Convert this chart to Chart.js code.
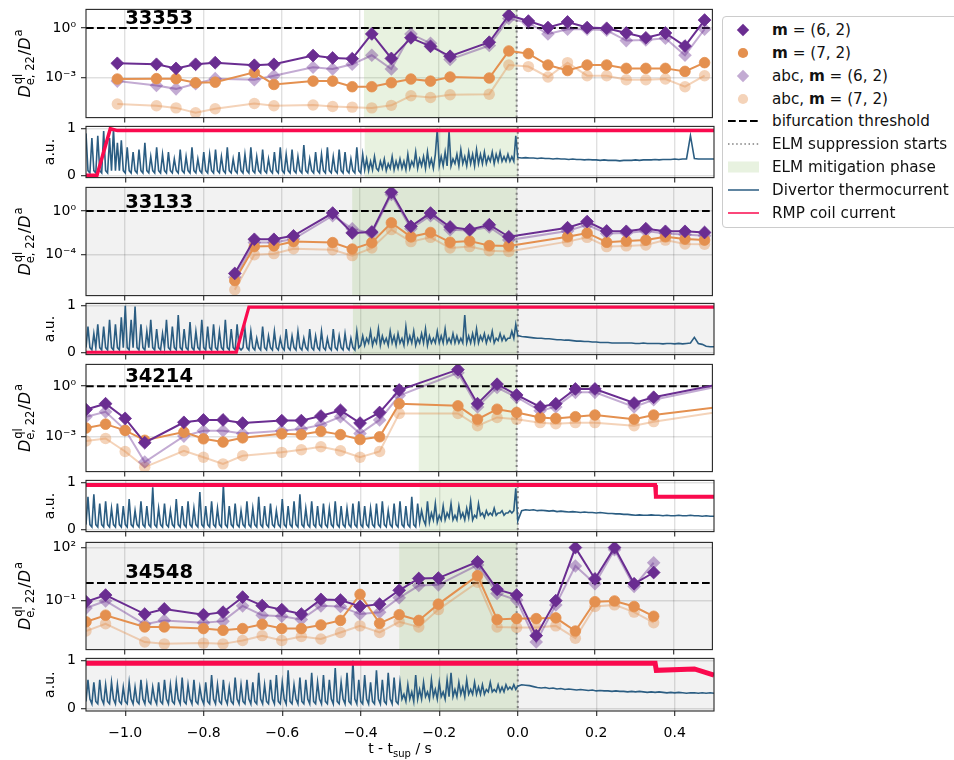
<!DOCTYPE html>
<html><head><meta charset="utf-8">
<script src="https://cdn.jsdelivr.net/npm/chart.js@4.4.1/dist/chart.umd.min.js"></script>
<style>
html,body{margin:0;padding:0;background:#fff;}
body{width:954px;height:760px;position:relative;overflow:hidden;font-family:"DejaVu Sans",sans-serif;}
canvas{position:absolute;left:0;}
#legend{position:absolute;left:722px;top:16px;width:250px;height:212px;border:1px solid #cccccc;border-radius:4px;background:rgba(255,255,255,0.85);box-sizing:border-box;}
.row{position:absolute;left:0;height:22px;width:245px;}
.row svg{position:absolute;left:3px;top:0;}
.row span{position:absolute;left:49px;top:0;line-height:22px;font-size:15.2px;color:#111;white-space:nowrap;}
</style></head><body>
<div id="legend"></div>
<script>
// ================= DATA =================
const xTicks = [-1.0,-0.8,-0.6,-0.4,-0.2,0.0,0.2,0.4];
const auTicks = [0, 1];
const threshold = 1;
const tSup = 0.0;

// shot 33353
const t33353 = [-1.02,-0.92,-0.87,-0.82,-0.77,-0.67,-0.62,-0.52,-0.47,-0.42,-0.37,-0.32,-0.27,-0.22,-0.17,-0.07,-0.02,0.03,0.08,0.13,0.18,0.23,0.28,0.33,0.38,0.43,0.48];
const m62_33353 = [7.1e-3,6.2e-3,3.5e-3,6.2e-3,7.8e-3,5.4e-3,6.2e-3,2.1e-2,1.5e-2,1.35e-2,0.43,1.4e-2,0.25,7.6e-2,1.9e-2,0.135,5.9,2.6,1.05,2.3,1.05,0.95,0.49,0.25,0.49,7.9e-2,3.0];
const m72_33353 = [7.9e-4,8.3e-4,8.3e-4,4.7e-4,5.1e-4,2.0e-3,3.7e-4,5.9e-4,5.9e-4,2.7e-4,2.7e-4,4.7e-4,7.9e-4,5.9e-4,1.05e-3,9.1e-4,4.0e-2,2.75e-2,5.6e-3,2.6e-3,5.6e-3,5.6e-3,3.5e-3,3.5e-3,3.5e-3,2.3e-3,7.8e-3];
const abc62_33353 = [5.9e-4,3.2e-4,2.0e-4,4.1e-4,8.3e-4,7.2e-4,1.26e-3,4.1e-3,3.2e-3,6.2e-3,2.2e-2,3.2e-3,0.43,0.117,1.23e-2,8.5e-2,3.7,2.0,0.43,0.83,0.83,0.72,0.17,0.186,0.234,2.2e-2,0.83];
const abc72_33353 = [2.4e-5,1.9e-5,1.4e-5,7.1e-6,1.23e-5,2.6e-5,1.9e-5,2.1e-5,1.7e-5,1.55e-5,1.4e-5,2.0e-5,7.6e-5,6.0e-5,8.7e-5,9.5e-5,5.6e-3,4.5e-3,1.05e-3,7.8e-3,1.26e-3,1.26e-3,7.2e-4,7.2e-4,7.9e-4,2.7e-4,1.26e-3];
const yLim33353 = [3.6e-6, 13.3];
const yTicks33353 = [1e-3, 1];
const mitig33353 = [-0.39, 0.0];

// shot 33133
const t33133 = [-0.72,-0.67,-0.62,-0.57,-0.47,-0.42,-0.37,-0.32,-0.27,-0.22,-0.17,-0.12,-0.07,-0.02,0.13,0.18,0.23,0.28,0.33,0.38,0.43,0.48];
const m62_33133 = [1.95e-6,2.6e-3,2.6e-3,5.4e-3,0.66,1.0e-2,1.23e-2,52,4.0e-2,0.66,3.5e-2,2.0e-2,5.6e-2,4.4e-3,3.0e-2,0.11,1.5e-2,1.4e-2,2.45e-2,1.4e-2,1.4e-2,1.1e-2];
const m72_33133 = [4.3e-7,5.6e-4,6.5e-4,1.6e-3,1.3e-3,3.3e-4,1.3e-3,8.5e-2,4.4e-3,1.1e-2,1.4e-3,1.8e-3,6.9e-4,6.5e-4,4.4e-3,1.0e-2,1.4e-3,1.8e-3,2.2e-3,4.4e-3,2.75e-3,2.2e-3];
const abc62_33133 = [8.5e-7,1.3e-3,1.3e-3,2.75e-3,0.38,2.45e-2,8.9e-3,33,2.45e-2,0.38,2.0e-2,1.7e-2,3.5e-2,2.2e-3,1.5e-2,5.6e-2,8.9e-3,1.0e-2,1.5e-2,8.9e-3,7.2e-3,5.4e-3];
const abc72_33133 = [6.2e-8,1.0e-4,1.26e-4,3.5e-4,2.9e-4,8.3e-5,4.1e-4,2.0e-2,1.6e-3,3.9e-3,4.1e-4,5.6e-4,2.3e-4,2.0e-4,1.6e-3,3.9e-3,5.6e-4,6.5e-4,7.9e-4,2.2e-3,9.8e-4,9.1e-4];
const yLim33133 = [1.82e-8, 148];
const yTicks33133 = [1e-4, 1];
const mitig33133 = [-0.42, 0.0];

// shot 34214
const t34214 = [-1.1,-1.05,-1.0,-0.95,-0.85,-0.8,-0.75,-0.7,-0.6,-0.55,-0.5,-0.45,-0.4,-0.35,-0.3,-0.15,-0.1,-0.05,0.0,0.06,0.1,0.15,0.2,0.3,0.35,0.55];
const m62_34214 = [4.1e-2,9.1e-2,1.23e-2,4.5e-4,7.2e-3,1.0e-2,1.0e-2,6.5e-3,9.1e-3,9.1e-3,1.7e-2,3.7e-2,6.5e-3,2.75e-2,0.59,9.5,9.1e-2,1.3,0.3,5.9e-2,9.1e-2,0.68,0.68,0.1,0.22,1.8];
const m72_34214 = [3.3e-3,5.6e-3,2.4e-3,6.2e-4,1.9e-3,7.6e-4,4.9e-4,8.7e-4,1.5e-3,1.35e-3,2.1e-3,1.35e-3,6.9e-4,1.0e-3,9.1e-2,6.8e-2,1.1e-2,4.3e-2,2.75e-2,1.4e-2,1.23e-2,1.55e-2,1.95e-2,1.1e-2,1.95e-2,7.1e-2];
const abc62_34214 = [1.55e-2,3.0e-2,2.6e-3,3.2e-5,1.1e-3,2.3e-3,2.3e-3,1.55e-3,2.3e-3,2.9e-3,5.1e-3,1.55e-2,1.55e-3,1.0e-2,0.275,6.2,5.9e-2,0.83,0.22,3.5e-2,5.9e-2,0.43,0.43,5.9e-2,0.155,1.45];
const abc72_34214 = [5.6e-4,7.9e-4,1.35e-4,1.6e-5,1.5e-4,6.2e-5,2.5e-5,7.6e-5,1.2e-4,1.7e-4,2.6e-4,1.5e-4,6.2e-5,1.35e-4,2.4e-2,2.4e-2,4.5e-3,1.4e-2,1.1e-2,6.9e-3,5.9e-3,6.9e-3,6.9e-3,4.5e-3,7.9e-3,3.9e-2];
const yLim34214 = [8.7e-6, 19.4];
const yTicks34214 = [1e-3, 1];
const mitig34214 = [-0.25, 0.0];

// shot 34548
const t34548 = [-1.1,-1.05,-0.95,-0.9,-0.8,-0.75,-0.7,-0.65,-0.6,-0.55,-0.5,-0.45,-0.4,-0.35,-0.3,-0.25,-0.2,-0.1,-0.05,0.0,0.05,0.1,0.15,0.2,0.25,0.3,0.35];
const m62_34548 = [8.9e-2,0.21,1.8e-2,3.5e-2,1.66e-2,2.3e-2,0.162,5.4e-2,3.2e-2,1.8e-2,0.12,0.11,4.8e-2,6.5e-2,0.39,1.8,1.9,15.5,0.44,0.21,1.1e-3,0.102,98,1.7,98,0.91,3.9];
const m72_34548 = [6.6e-3,1.55e-2,3.4e-3,3.4e-3,2.75e-3,2.2e-3,2.75e-3,4.8e-3,2.75e-3,2.75e-3,4.4e-3,7.9e-3,0.23,5.4e-3,1.66e-2,7.9e-3,6.5e-2,2.6,8.9e-3,1.0e-2,1.0e-2,1.1e-2,2.0e-3,8.9e-2,9.8e-2,4.8e-2,1.35e-2];
const abc62_34548 = [3.9e-2,9.8e-2,4.8e-3,7.9e-3,5.9e-3,7.2e-3,5.2e-2,1.55e-2,1.35e-2,8.9e-3,5.2e-2,4.8e-2,1.8e-2,2.3e-2,0.148,0.72,0.79,10.2,0.26,0.11,4.8e-4,5.9e-2,9.1,0.91,74,0.65,13.8];
const abc72_34548 = [2.0e-3,5.1e-3,4.8e-4,3.8e-4,4.2e-4,3.8e-4,5.9e-4,1.1e-3,5.9e-4,9.8e-4,7.2e-4,1.66e-3,3.9e-3,1.66e-3,6.6e-3,3.4e-3,3.2e-2,1.1,3.4e-3,3.2e-3,3.2e-3,3.9e-3,7.9e-4,4.8e-2,5.9e-2,2.3e-2,5.9e-3];
const yLim34548 = [1.81e-4, 192];
const yTicks34548 = [1e-1, 1e2];
const mitig34548 = [-0.30, 0.0];

// divertor thermocurrent (normalised), sampled every 5 ms before t_sup, every 10 ms after
const tcStart = -1.1, tcStepPre = 0.005, tcStepPost = 0.01;
const tc33353Pre = [
.9,.1,.05,.8,.1,.05,.85,.1,.05,.95,.1,.05,.8,.1,1.0,.1,.7,.1,.75,.1,
.05,.6,.1,.05,.5,.1,.05,.55,.1,.05,.7,.1,.05,.4,.1,.05,.6,.1,.05,.45,
.1,.05,.5,.1,.05,.35,.1,.05,.55,.1,.05,.4,.1,.05,.6,.1,.05,.35,.1,.05,
.5,.1,.05,.45,.1,.05,.55,.1,.05,.4,.1,.05,.6,.1,.05,.35,.1,.05,.5,.1,
.05,.45,.1,.05,.6,.1,.05,.4,.1,.05,.55,.1,.05,.35,.1,.05,.5,.1,.05,.6,
.1,.05,.45,.1,.05,.55,.1,.05,.4,.1,.05,.65,.1,.05,.35,.1,.05,.5,.1,.05,
.45,.1,.05,.6,.1,.05,.4,.1,.05,.55,.1,.05,.5,.1,.05,.35,.1,.05,.6,.1,
.05,.45,.12,.35,.1,.3,.12,.4,.15,.1,.3,.15,.35,.1,.25,.15,.4,.12,.3,.15,
.35,.15,.3,.12,.45,.15,.3,.2,.5,.15,.35,.2,.4,.15,.5,.2,.35,.15,.45,1.0,
.2,.4,.2,.5,.2,.95,.2,.35,.25,.45,.2,.55,.25,.4,.2,.5,.25,.45,.2,.55,
.25,.45,.25,.5,.25,.4,.3,.5,.25,.45,.3,.5,.3,.4,.3,.45,.3,.4,.3,.85];
const tc33353Post = [
.38,.37,.38,.37,.37,.36,.37,.36,.36,.35,
.36,.35,.35,.34,.35,.34,.34,.33,.34,.33,
.33,.32,.33,.32,.32,.32,.31,.32,.32,.32,
.33,.32,.33,.33,.33,.34,.33,.34,.34,.34,
.35,.34,.35,.35,.85,.36,.35,.35,.35,.35,.35];
const tc33133Pre = [
.1,.55,.1,.05,.4,.1,.6,.1,.05,.55,.1,.05,.7,.1,.05,.6,.1,.05,.75,.1,
1.0,.1,.05,.7,.1,.98,.1,.05,.6,.1,.05,.45,.1,.7,.1,.05,.5,.1,.05,.4,
.1,.7,.1,.05,.55,.1,.05,.8,.1,.05,.5,.1,.05,.65,.1,.05,.45,.1,.05,.7,
.1,.05,.55,.1,.05,.6,.1,.05,.45,.1,.05,.7,.1,.05,.5,.1,.05,.6,.1,.05,
.1,.5,.1,.05,.45,.1,.05,.3,.1,.05,.55,.1,.05,.35,.1,.05,.45,.1,.05,.3,
.1,.05,.5,.1,.05,.35,.1,.05,.45,.1,.05,.3,.1,.05,.5,.1,.05,.35,.1,.05,
.45,.1,.05,.3,.1,.05,.5,.1,.05,.35,.1,.05,.4,.1,.05,.3,.1,.05,.45,.1,
.15,.35,.15,.3,.2,.45,.15,.3,.2,.5,.15,.35,.2,.3,.15,.45,.2,.35,.15,.4,
.2,.3,.15,.55,.2,.35,.2,.45,.15,.3,.2,.4,.2,.5,.15,.35,.2,.3,.2,.45,
.2,.35,.2,.5,.2,.3,.2,.4,.2,.35,.2,.3,.2,.8,.2,.35,.2,.4,.2,.5,
.2,.35,.25,.4,.2,.35,.25,.45,.2,.3,.25,.4,.25,.35,.25,.3,.3,.45,.3,.6];
const tc33133Post = [
.36,.34,.33,.32,.31,.3,.3,.29,.29,.28,
.27,.27,.26,.26,.25,.24,.24,.23,.23,.22,
.22,.21,.21,.21,.2,.2,.2,.2,.2,.2,
.19,.19,.2,.19,.19,.19,.19,.18,.19,.19,
.18,.19,.18,.19,.2,.32,.19,.17,.13,.12,.12];
const tc34214Pre = [
.1,.7,.1,.05,.75,.1,.05,.55,.1,.05,.6,.1,.05,.45,.1,.05,.55,.1,.05,.5,
.1,.05,.65,.1,.05,.4,.1,.05,.6,.1,.05,.5,.1,.05,.9,.1,.05,.45,.1,.05,
.55,.1,.05,.4,.1,.05,.65,.1,.05,.5,.1,.05,.6,.1,.05,.45,.1,.05,.8,.1,
.05,.5,.1,.05,.6,.1,.05,.45,.1,.05,.95,.1,.05,.5,.1,.05,.55,.1,.05,.4,
.1,.05,.6,.1,.05,.45,.1,.05,.7,.1,.05,.5,.1,.05,.55,.1,.05,.4,.1,.05,
.65,.1,.05,.5,.1,.05,.6,.1,.05,.75,.1,.05,.45,.1,.05,.6,.1,.05,.5,.1,
.05,.55,.1,.05,.45,.1,.05,.6,.1,.05,.5,.1,.05,.45,.1,.05,.55,.1,.05,.6,
.1,.05,.5,.1,.05,.45,.1,.05,.55,.1,.05,.6,.1,.05,.4,.1,.05,.55,.1,.05,
.6,.1,.05,.5,.1,.05,.7,.1,.05,.55,.15,.4,.2,.1,.6,.15,.35,.2,.55,.15,
.3,.2,.5,.2,.35,.25,.55,.2,.3,.2,.5,.25,.35,.2,.45,.25,.6,.2,.3,.25,
.55,.3,.35,.25,.4,.3,.35,.3,.45,.3,.35,.35,.4,.3,.35,.35,.4,.35,.4,.88];
const tc34214Post = [
.18,.4,.42,.41,.42,.4,.41,.4,.39,.4,
.38,.39,.38,.37,.38,.37,.36,.37,.36,.36,
.35,.36,.35,.34,.34,.33,.33,.32,.32,.31,
.3,.31,.3,.3,.31,.3,.3,.29,.3,.29,
.29,.3,.29,.29,.3,.29,.29,.28,.29,.28,.28];
const tc34548Pre = [
.15,.6,.2,.1,.55,.15,.1,.6,.2,.1,.5,.15,.1,.55,.2,.1,.5,.15,.1,.45,
.15,.1,.55,.2,.1,.45,.15,.1,.6,.2,.1,.5,.15,.1,.45,.2,.1,.55,.15,.1,
.6,.2,.1,.5,.15,.1,.55,.2,.1,.65,.15,.1,.5,.2,.1,.6,.15,.1,.45,.2,
.1,.55,.15,.1,.7,.2,.1,.5,.15,.1,.6,.2,.1,.45,.15,.1,.65,.2,.1,.5,
.15,.1,.6,.2,.1,.55,.15,.1,.75,.2,.1,.5,.15,.1,.6,.2,.1,.7,.15,.1,
.55,.2,.1,.8,.15,.1,.5,.2,.1,.65,.15,.1,.6,.2,.1,.75,.15,.1,.55,.2,
.1,.7,.15,.1,.6,.2,.1,.85,.15,.1,.55,.2,.1,.75,.15,.1,1.0,.2,.1,.6,
.15,.1,.7,.2,.1,.55,.15,.1,.8,.2,.1,.6,.15,.1,.75,.2,.1,.65,.15,.1,
.55,.2,.3,.15,.5,.2,.35,.15,.7,.2,.4,.2,.55,.25,.35,.2,.6,.25,.4,.2,
.55,.25,.35,.2,.6,.25,.75,.25,.4,.25,.55,.3,.45,.25,.6,.3,.4,.3,.55,.3,
.45,.3,.5,.3,.4,.35,.55,.35,.4,.35,.5,.35,.45,.35,.5,.4,.45,.4,.5,.4];
const tc34548Post = [
.47,.5,.49,.48,.46,.44,.43,.44,.42,.43,
.41,.42,.4,.41,.4,.39,.4,.39,.38,.39,
.37,.38,.37,.37,.36,.37,.36,.36,.35,.36,
.35,.36,.35,.34,.35,.34,.35,.34,.33,.34,
.33,.34,.33,.32,.33,.33,.32,.33,.32,.33,.32];

// RMP coil current (normalised) breakpoints
const rmpT33353 = [-1.1,-1.072,-1.038,-1.02,0.5];
const rmpV33353 = [0,0,1.0,0.96,0.96];
const rmpT33133 = [-1.1,-0.717,-0.685,0.5];
const rmpV33133 = [0,0,0.97,0.97];
const rmpT34214 = [-1.1,0.35,0.352,0.5];
const rmpV34214 = [0.95,0.95,0.70,0.70];
const rmpT34548 = [-1.1,0.35,0.353,0.45,0.5];
const rmpV34548 = [0.95,0.95,0.80,0.83,0.70];

const legendItems = [
  {icon:'diamond', text:'<b>m</b> = (6, 2)'},
  {icon:'circle', text:'<b>m</b> = (7, 2)'},
  {icon:'diamondL', text:'abc, <b>m</b> = (6, 2)'},
  {icon:'circleL', text:'abc, <b>m</b> = (7, 2)'},
  {icon:'dash', text:'bifurcation threshold'},
  {icon:'dot', text:'ELM suppression starts'},
  {icon:'patch', text:'ELM mitigation phase'},
  {icon:'blue', text:'Divertor thermocurrent'},
  {icon:'red', text:'RMP coil current'}
];

// ================= STYLE / LAYOUT =================
const PURPLE = '#6a2d91', ORANGE = '#e4904f';
const PURPLE_L = 'rgba(106,45,145,0.4)', ORANGE_L = 'rgba(228,144,79,0.4)';
const BLUE = '#2b5d82', RED = '#fa0a4e';
const GREEN = 'rgba(140,190,100,0.2)';
const GRID = 'rgba(0,0,0,0.12)';
const FONT = '"DejaVu Sans"';

Chart.defaults.font.family = FONT;
Chart.defaults.font.size = 14;
Chart.defaults.color = '#000';

const GEOM = [
  {top:8, bot:119}, {top:125, bot:179}, {top:186, bot:297}, {top:302, bot:356},
  {top:363, bot:473}, {top:479, bot:533}, {top:541, bot:651}, {top:657, bot:711}
];

function sup(n) {
  const map = {'-':'\u207B','0':'\u2070','1':'\u00B9','2':'\u00B2','3':'\u00B3','4':'\u2074','5':'\u2075','6':'\u2076','7':'\u2077','8':'\u2078','9':'\u2079'};
  return String(n).split('').map(c => map[c]).join('');
}
function fmtX(v) { return (v < -1e-9 ? '\u2212' : '') + Math.abs(v).toFixed(1); }
function pts(xs, ys) { return xs.map((x, i) => ({x: x, y: ys[i]})); }
function tcPts(pre, post) {
  const out = [];
  pre.forEach((v, i) => out.push({x: tcStart + i * tcStepPre, y: v}));
  post.forEach((v, i) => out.push({x: tSup + i * tcStepPost, y: v}));
  return out;
}

function drawDLabel(ctx, xb, yc) {
  ctx.save(); ctx.translate(xb, yc); ctx.rotate(-Math.PI / 2);
  ctx.fillStyle = '#000'; ctx.textBaseline = 'alphabetic'; ctx.textAlign = 'left';
  const big = 'italic 16px ' + FONT, small = '11.5px ' + FONT, reg = '16px ' + FONT;
  ctx.font = big; const wD = ctx.measureText('D').width;
  ctx.font = small; const wSup = ctx.measureText('ql').width, wSub = ctx.measureText('e, 22').width, wA = ctx.measureText('a').width;
  ctx.font = reg; const wSl = ctx.measureText('/').width;
  const total = wD + 1 + Math.max(wSup, wSub) + wSl + wD + 1 + wA;
  let x = -total / 2;
  ctx.font = big; ctx.fillText('D', x, 0); x += wD + 1;
  ctx.font = small; ctx.fillText('ql', x, -7.5); ctx.fillText('e, 22', x - 1, 4); x += Math.max(wSup, wSub);
  ctx.font = reg; ctx.fillText('/', x, 0); x += wSl;
  ctx.font = big; ctx.fillText('D', x, 0); x += wD + 1;
  ctx.font = small; ctx.fillText('a', x, -7.5);
  ctx.restore();
}
function drawAU(ctx, xb, yc) {
  ctx.save(); ctx.translate(xb, yc); ctx.rotate(-Math.PI / 2);
  ctx.fillStyle = '#000'; ctx.textBaseline = 'alphabetic'; ctx.textAlign = 'center';
  ctx.font = '14px ' + FONT; ctx.fillText('a.u.', 0, 0);
  ctx.restore();
}

const deco = {
  id: 'deco',
  beforeDraw(chart, args, o) {
    const {ctx, chartArea: a} = chart;
    ctx.save(); ctx.fillStyle = o.bg; ctx.fillRect(a.left, a.top, a.width, a.height); ctx.restore();
  },
  beforeDatasetsDraw(chart, args, o) {
    const {ctx, chartArea: a} = chart; const x = chart.scales.x, y = chart.scales.y;
    ctx.save(); ctx.beginPath(); ctx.rect(a.left, a.top, a.width, a.height); ctx.clip();
    const s0 = x.getPixelForValue(o.span[0]), s1 = x.getPixelForValue(o.span[1]);
    ctx.fillStyle = GREEN; ctx.fillRect(s0, a.top, s1 - s0, a.height);
    const xv = x.getPixelForValue(o.sup);
    ctx.strokeStyle = '#7f7f7f'; ctx.lineWidth = 2; ctx.setLineDash([2, 3.3]);
    ctx.beginPath(); ctx.moveTo(xv, a.top); ctx.lineTo(xv, a.bottom); ctx.stroke();
    if (o.threshold !== null) {
      const yt = y.getPixelForValue(o.threshold);
      ctx.strokeStyle = '#000'; ctx.lineWidth = 2; ctx.setLineDash([7.7, 3.3]);
      ctx.beginPath(); ctx.moveTo(a.left, yt); ctx.lineTo(a.right, yt); ctx.stroke();
    }
    ctx.restore();
  },
  afterDatasetsDraw(chart, args, o) {
    if (!o.label) return;
    const {ctx} = chart; const x = chart.scales.x, y = chart.scales.y;
    ctx.save(); ctx.fillStyle = '#000'; ctx.font = 'bold 19.5px ' + FONT;
    ctx.textBaseline = 'alphabetic'; ctx.textAlign = 'left';
    ctx.fillText(o.label, x.getPixelForValue(-1.0), y.getPixelForValue(1.85));
    ctx.restore();
  },
  afterDraw(chart, args, o) {
    const {ctx, chartArea: a} = chart;
    ctx.save(); ctx.strokeStyle = '#262626'; ctx.lineWidth = 1.1;
    ctx.strokeRect(a.left, a.top, a.width, a.height); ctx.restore();
    const yc = (a.top + a.bottom) / 2;
    if (o.ytitle === 'D') drawDLabel(ctx, 29.5, yc); else drawAU(ctx, 54, yc);
    if (o.xlabel) {
      ctx.save(); ctx.fillStyle = '#000'; ctx.textBaseline = 'alphabetic'; ctx.textAlign = 'left';
      const f1 = '14px ' + FONT, f2 = '10px ' + FONT;
      ctx.font = f1; const w1 = ctx.measureText('t - t').width, w3 = ctx.measureText(' / s').width;
      ctx.font = f2; const w2 = ctx.measureText('sup').width;
      const cx = (a.left + a.right) / 2; let xx = cx - (w1 + w2 + w3) / 2;
      const yb = o.xlabelY;
      ctx.font = f1; ctx.fillText('t - t', xx, yb); xx += w1;
      ctx.font = f2; ctx.fillText('sup', xx, yb + 3.5); xx += w2;
      ctx.font = f1; ctx.fillText(' / s', xx, yb);
      ctx.restore();
    }
  }
};

function makePanel(idx, kind, spec) {
  const g = GEOM[idx];
  const last = idx === GEOM.length - 1;
  const padT = 12, padB = last ? 760 - g.bot : 12;
  const cv = document.createElement('canvas');
  cv.width = 720; cv.height = (g.bot - g.top) + padT + padB;
  cv.style.top = (g.top - padT) + 'px';
  cv.style.width = '720px'; cv.style.height = cv.height + 'px';
  document.body.insertBefore(cv, document.getElementById('legend'));
  const grid = {color: GRID, lineWidth: 1.4, tickColor: '#262626', tickLength: 5, tickWidth: 1.1, drawTicks: true};
  let yScale;
  if (kind === 'D') {
    yScale = {type: 'logarithmic', min: spec.yLim[0], max: spec.yLim[1],
      afterBuildTicks: s => { s.ticks = spec.yTicks.map(v => ({value: v})); },
      afterFit: s => { s.width = 86; },
      grid: grid, border: {display: false},
      ticks: {autoSkip: false, padding: 5, color: '#000', font: {size: 14},
        callback: v => '10' + sup(Math.round(Math.log10(v)))}};
  } else {
    yScale = {type: 'linear', min: -0.05, max: 1.05,
      afterBuildTicks: s => { s.ticks = auTicks.map(v => ({value: v})); },
      afterFit: s => { s.width = 86; },
      grid: grid, border: {display: false},
      ticks: {autoSkip: false, padding: 5, color: '#000', font: {size: 14}, callback: v => String(v)}};
  }
  new Chart(cv, {
    type: 'line',
    data: {datasets: spec.datasets},
    options: {
      responsive: false, animation: false, devicePixelRatio: 1, events: [],
      layout: {padding: {top: padT, right: 6, left: 0, bottom: 0}},
      plugins: {legend: {display: false}, tooltip: {enabled: false},
        deco: {bg: spec.bg, span: spec.span, sup: tSup, threshold: kind === 'D' ? threshold : null,
               label: spec.label || null, ytitle: kind, xlabel: last, xlabelY: 753 - (g.top - padT)}},
      scales: {
        x: {type: 'linear', min: -1.1, max: 0.5,
          afterBuildTicks: s => { s.ticks = xTicks.map(v => ({value: v})); },
          afterFit: s => { s.height = padB; },
          grid: grid, border: {display: false},
          ticks: {display: last, autoSkip: false, maxRotation: 0, padding: 9, color: '#000', font: {size: 14}, callback: v => fmtX(v)}},
        y: yScale
      }
    },
    plugins: [deco]
  });
}

function dSets(t, a, b, c, d) {
  const base = {tension: 0, borderWidth: 2, clip: 0, pointBorderWidth: 0.8, spanGaps: true};
  return [
    Object.assign({}, base, {label: 'm=(6,2)', data: pts(t, a), borderColor: PURPLE, backgroundColor: PURPLE, pointBorderColor: PURPLE, pointStyle: 'rectRot', pointRadius: 6.4, order: 1}),
    Object.assign({}, base, {label: 'm=(7,2)', data: pts(t, b), borderColor: ORANGE, backgroundColor: ORANGE, pointBorderColor: ORANGE, pointStyle: 'circle', pointRadius: 5.3, order: 2}),
    Object.assign({}, base, {label: 'abc, m=(6,2)', data: pts(t, c), borderColor: PURPLE_L, backgroundColor: PURPLE_L, pointBorderColor: 'rgba(0,0,0,0)', pointStyle: 'rectRot', pointRadius: 6.8, order: 3}),
    Object.assign({}, base, {label: 'abc, m=(7,2)', data: pts(t, d), borderColor: ORANGE_L, backgroundColor: ORANGE_L, pointBorderColor: 'rgba(0,0,0,0)', pointStyle: 'circle', pointRadius: 5.7, order: 4})
  ];
}
function sSets(pre, post, rt, rv, rw) {
  return [
    {label: 'Divertor thermocurrent', data: tcPts(pre, post), borderColor: BLUE, borderWidth: 1.6, pointRadius: 0, tension: 0, clip: 0, order: 2},
    {label: 'RMP coil current', data: pts(rt, rv), borderColor: RED, borderWidth: rw, pointRadius: 0, tension: 0, clip: 0, order: 1}
  ];
}

makePanel(0, 'D', {bg: '#ffffff', span: mitig33353, label: '33353', yLim: yLim33353, yTicks: yTicks33353,
  datasets: dSets(t33353, m62_33353, m72_33353, abc62_33353, abc72_33353)});
makePanel(1, 'S', {bg: '#ffffff', span: mitig33353, datasets: sSets(tc33353Pre, tc33353Post, rmpT33353, rmpV33353, 3.5)});
makePanel(2, 'D', {bg: '#f2f2f2', span: mitig33133, label: '33133', yLim: yLim33133, yTicks: yTicks33133,
  datasets: dSets(t33133, m62_33133, m72_33133, abc62_33133, abc72_33133)});
makePanel(3, 'S', {bg: '#f2f2f2', span: mitig33133, datasets: sSets(tc33133Pre, tc33133Post, rmpT33133, rmpV33133, 3.2)});
makePanel(4, 'D', {bg: '#ffffff', span: mitig34214, label: '34214', yLim: yLim34214, yTicks: yTicks34214,
  datasets: dSets(t34214, m62_34214, m72_34214, abc62_34214, abc72_34214)});
makePanel(5, 'S', {bg: '#ffffff', span: mitig34214, datasets: sSets(tc34214Pre, tc34214Post, rmpT34214, rmpV34214, 4)});
makePanel(6, 'D', {bg: '#f2f2f2', span: mitig34548, label: '34548', yLim: yLim34548, yTicks: yTicks34548,
  datasets: dSets(t34548, m62_34548, m72_34548, abc62_34548, abc72_34548)});
makePanel(7, 'S', {bg: '#f2f2f2', span: mitig34548, datasets: sSets(tc34548Pre, tc34548Post, rmpT34548, rmpV34548, 5)});

// legend
const icons = {
  diamond: '<path d="M17 4.8 L23.2 11 L17 17.2 L10.8 11 Z" fill="' + PURPLE + '"/>',
  circle: '<circle cx="17" cy="11" r="5.1" fill="' + ORANGE + '"/>',
  diamondL: '<path d="M17 4.8 L23.2 11 L17 17.2 L10.8 11 Z" fill="' + PURPLE_L + '"/>',
  circleL: '<circle cx="17" cy="11" r="5.1" fill="' + ORANGE_L + '"/>',
  dash: '<line x1="2" y1="11" x2="33" y2="11" stroke="#000" stroke-width="2" stroke-dasharray="7.7,3.3"/>',
  dot: '<line x1="2" y1="11" x2="33" y2="11" stroke="#7f7f7f" stroke-width="1.5" stroke-dasharray="1.5,2.6"/>',
  patch: '<rect x="2" y="5.5" width="31" height="11" fill="#e8f2e0"/>',
  blue: '<line x1="2" y1="11" x2="33" y2="11" stroke="' + BLUE + '" stroke-width="1.5"/>',
  red: '<line x1="2" y1="11" x2="33" y2="11" stroke="' + RED + '" stroke-width="1.5"/>'
};
const leg = document.getElementById('legend');
legendItems.forEach((it, i) => {
  const r = document.createElement('div'); r.className = 'row';
  r.style.top = (13 + 22.84 * i - 11) + 'px';
  r.innerHTML = '<svg width="36" height="22">' + icons[it.icon] + '</svg><span>' + it.text + '</span>';
  leg.appendChild(r);
});
</script>
</body></html>
